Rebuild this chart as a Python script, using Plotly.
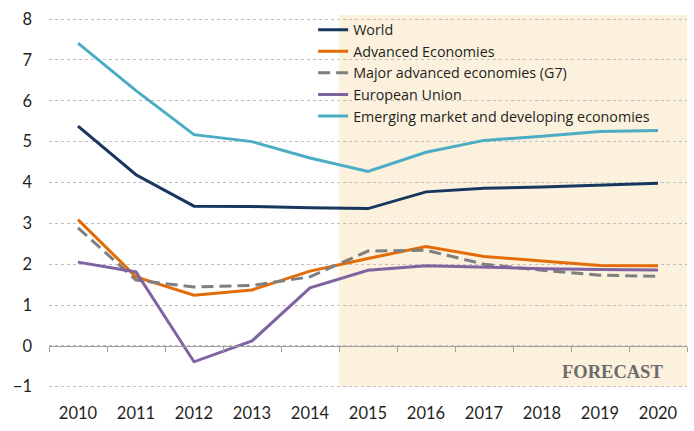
import plotly.graph_objects as go

# Real GDP growth, annual percent change
years = ["2010", "2011", "2012", "2013", "2014", "2015",
         "2016", "2017", "2018", "2019", "2020"]
world = [5.38, 4.19, 3.42, 3.41, 3.38, 3.36, 3.77, 3.86, 3.89, 3.94, 3.98]
advanced = [3.09, 1.69, 1.24, 1.37, 1.83, 2.14, 2.43, 2.19, 2.08, 1.97, 1.96]
g7 = [2.89, 1.61, 1.44, 1.48, 1.69, 2.32, 2.34, 2.00, 1.85, 1.73, 1.70]
eu = [2.05, 1.81, -0.39, 0.12, 1.42, 1.85, 1.96, 1.92, 1.89, 1.87, 1.86]
emerging = [7.41, 6.25, 5.17, 5.00, 4.60, 4.27, 4.74, 5.03, 5.13, 5.25, 5.27]
y_ticks = [-1, 0, 1, 2, 3, 4, 5, 6, 7, 8]
forecast_start = "2015"

series = [
    ("World", world, "#17375e", "solid"),
    ("Advanced Economies", advanced, "#e36c09", "solid"),
    ("Major advanced economies (G7)", g7, "#7f7f7f", "12px,6px"),
    ("European Union", eu, "#8064a2", "solid"),
    ("Emerging market and developing economies", emerging, "#4bacc6", "solid"),
]

Y_MIN, Y_MAX = -1.35, 8.1
FONT = "Lato"
TEXT = "#1f1f1f"

fig = go.Figure()
for name, vals, color, dash in series:
    fig.add_trace(go.Scatter(
        x=years, y=vals, name=name, mode="lines",
        line=dict(color=color, width=3, dash=dash),
    ))

# Shaded forecast period
fc_idx = years.index(forecast_start)
fig.add_shape(type="rect", xref="x", yref="y", x0=fc_idx - 0.5, x1=len(years) - 0.5,
              y0=y_ticks[0], y1=Y_MAX, fillcolor="#fbf1dc", line_width=0, layer="below")

fig.add_annotation(xref="x", yref="y", x=fc_idx + 4.22, y=-0.64, text="<b>FORECAST</b>",
                   showarrow=False,
                   font=dict(family="Liberation Serif", size=18.5, color="#6b6b6b"))

fig.update_layout(
    width=694, height=431,
    margin=dict(l=49, r=7, t=15, b=30),
    paper_bgcolor="white", plot_bgcolor="rgba(0,0,0,0)",
    font=dict(family=FONT, size=15, color=TEXT),
    showlegend=True,
    legend=dict(x=0.414, y=1.003, xanchor="left", yanchor="top",
                bgcolor="rgba(0,0,0,0)",
                font=dict(family="Open Sans", size=14.3, color=TEXT),
                tracegroupgap=0),
    xaxis=dict(type="category", range=[-0.5, len(years) - 0.5], showgrid=False,
               showline=False, ticks="", tickfont=dict(size=16.5)),
    yaxis=dict(range=[Y_MIN, Y_MAX], tickvals=y_ticks, showgrid=True,
               gridcolor="#bfbfbf", griddash="dot", gridwidth=1,
               zeroline=False, ticklabelstandoff=16, tickfont=dict(size=16.5)),
    # category axis drawn along y = 0 with boundary ticks
    xaxis2=dict(overlaying="x", anchor="free",
                position=(0 - Y_MIN) / (Y_MAX - Y_MIN),
                range=[-0.5, len(years) - 0.5],
                tickvals=[i - 0.5 for i in range(len(years) + 1)],
                ticks="outside", ticklen=5, tickcolor="#a0a0a0",
                showline=True, linecolor="#a0a0a0", linewidth=1,
                showticklabels=False, showgrid=False, zeroline=False),
)
fig.add_trace(go.Scatter(x=[None], y=[None], xaxis="x2", showlegend=False,
                         hoverinfo="skip"))

fig.write_html("out.html")
